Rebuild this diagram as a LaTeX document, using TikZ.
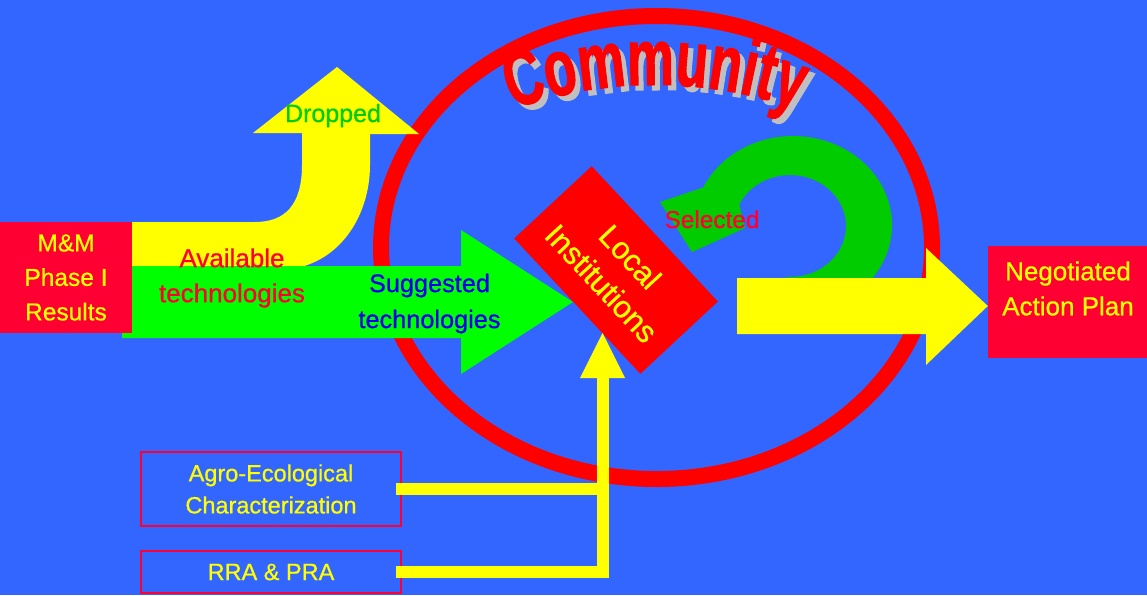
\documentclass[tikz,border=0pt]{standalone}
\usepackage{fontspec}
\setmainfont{Liberation Sans}[FakeBold=0.7]
\newfontfamily\commfont{Liberation Sans}[FakeStretch=0.66, BoldFeatures={FakeBold=1.2}]
\newcommand\commtext{\fontsize{80}{82}\commfont\bfseries}
\usetikzlibrary{decorations.text,calc}
\definecolor{bg}{HTML}{3366FF}
\definecolor{boxred}{HTML}{FF0033}
\definecolor{ringred}{HTML}{FF0000}
\definecolor{ylw}{HTML}{FFFF00}
\definecolor{grn}{HTML}{00FF00}
\definecolor{dgrn}{HTML}{00CC00}
\definecolor{blu}{HTML}{0000EE}
\definecolor{shade}{HTML}{C0C0C0}
\tikzset{
  redbox/.style={fill=boxred, text=ylw, align=center, inner sep=0pt},
  outbox/.style={draw=boxred, line width=2.5pt, text=ylw, align=center, inner sep=0pt,
    font=\fontsize{23.5}{32}\selectfont},
  yline/.style={draw=ylw, line width=12pt, line join=miter},
  commpath/.style={decorate, decoration={text along path, text={|\commtext|Community},
    text align=center, text color=#1}}
}
\begin{document}
\begin{tikzpicture}[x=1pt,y=-1pt]
\fill[bg] (0,0) rectangle (1147,595);
\useasboundingbox (0,0) rectangle (1147,595);
% ring
\draw[ringred, line width=16pt] (656.5,247.5) ellipse [x radius=275.5, y radius=231.5];
% Community
\path[commpath=shade] (660,520) ++(-116:430) arc[start angle=-116, end angle=-64, radius=430];
\path[commpath=ringred] (655,515) ++(-116:430) arc[start angle=-116, end angle=-64, radius=430];
% dropped arrow
\fill[ylw] (128,222) -- (255,222) .. controls (285,222) and (302,205) .. (302,165) -- (302,133)
  -- (253,133) -- (337,67) -- (419,134) -- (370,134) -- (370,165)
  .. controls (370,215) and (340,266) .. (283,270) -- (128,270) -- cycle;
% green suggested arrow
\fill[grn] (122,266) -- (461,266) -- (461,230) -- (573,302) -- (461,374) -- (461,338) -- (122,338) -- cycle;
% M&M box
\node[redbox, minimum width=132, minimum height=111, font=\fontsize{24.5}{34.5}\selectfont]
  (mm) at (66,277.5) {M\&M\\Phase I\\Results};
\node[text=boxred, align=center, font=\fontsize{26}{35}\selectfont] (avail) at (232,278) {Available\\technologies};
\node[text=blu, align=center, font=\fontsize{25.3}{36}\selectfont] (sugg) at (429.5,303.5) {Suggested\\technologies};
\node[text=dgrn, anchor=base, inner sep=0pt, font=\fontsize{25}{30}\selectfont] (drop) at (333,122) {Dropped};
% local institutions
\node[fill=ringred, minimum width=185, minimum height=106, rotate=-47, text=ylw, align=center,
  inner sep=0pt, font=\fontsize{31}{39}\selectfont] (local) at (616,270) {Local\\Institutions};
% selected arrow
\fill[dgrn] (743.5,302.1) arc[start angle=120, end angle=-155, x radius=99, y radius=89]
  -- (660,202) -- (692,252) -- (745,228) -- (739.25,204.45)
  arc[start angle=-155, end angle=90, x radius=56, y radius=51]
  -- (760,281) -- cycle;
\node[text=boxred, anchor=base, inner sep=0pt, font=\fontsize{24.4}{30}\selectfont] (sel) at (712,228) {Selected};
% negotiated
\node[redbox, minimum width=159, minimum height=112] (neg) at (1067.5,302) {};
\node[text=ylw, align=center, font=\fontsize{26}{35}\selectfont] (negtext) at (1068,288.5) {Negotiated\\Action Plan};
\fill[ylw] (737,278) -- (926,278) -- (926,248) -- (neg.west |- 0,306) -- (926,365) -- (926,334) -- (737,334) -- cycle;
% bottom boxes
\node[outbox, minimum width=260, minimum height=74] (agro) at (271,489) {Agro-Ecological\\Characterization};
\node[outbox, minimum width=260, minimum height=42] (rra) at (271,572) {RRA \& PRA};
\coordinate (jt) at (602.5,378);
\draw[yline] ([xshift=-6pt]rra.east) -| (jt);
\draw[yline] ([xshift=-6pt]agro.east) -- (agro.east -| jt);
\fill[ylw] ($(jt)+(-22.5,0)$) -- ($(jt)+(22.5,0)$) -- ($(jt)+(0,-45)$) -- cycle;
\end{tikzpicture}
\end{document}
